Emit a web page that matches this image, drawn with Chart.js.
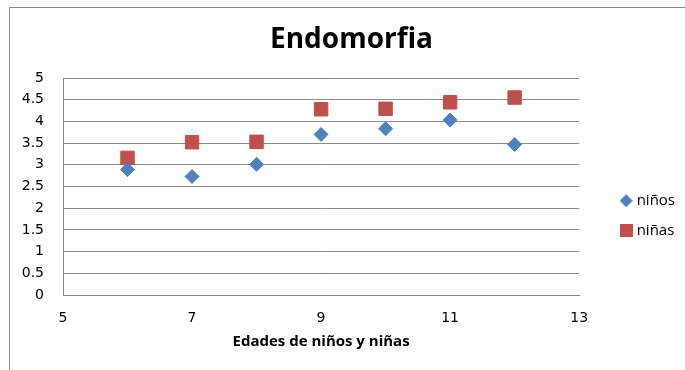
<!DOCTYPE html>
<html>
<head>
<meta charset="utf-8">
<script src="https://cdn.jsdelivr.net/npm/chart.js@4/dist/chart.umd.min.js"></script>
<style>
  html, body { margin: 0; padding: 0; background: #fff; }
  #wrap { position: relative; width: 685px; height: 370px; }
  #frame { position: absolute; left: 9px; top: 7px; right: 0; bottom: 0;
           border-left: 1px solid #8c8c8c; border-top: 1px solid #8c8c8c; }
  canvas { position: absolute; left: 0; top: 0; }
</style>
</head>
<body>
<div id="wrap">
  <div id="frame"></div>
  <canvas id="c" width="685" height="370"></canvas>
</div>
<script>
const edades = [6, 7, 8, 9, 10, 11, 12];
const ninos = [2.89, 2.73, 3.01, 3.70, 3.83, 4.03, 3.47];
const ninas = [3.16, 3.52, 3.53, 4.28, 4.29, 4.44, 4.55];
const seriesNames = ['niños', 'niñas'];
const chartTitle = 'Endomorfia';
const xTitle = 'Edades de niños y niñas';
const xRange = [5, 13, 2];
const yRange = [0, 5, 0.5];

const TFONT = '"Open Sans", Lato, sans-serif';
const NFONT = '"DejaVu Sans", Verdana, sans-serif';
const GRID = '#8a8a8a';
const BLUE = '#4F81BD';
const RED = '#C0504D';

const toPts = (xs, ys) => xs.map((x, i) => ({ x: x, y: ys[i] }));

// small legend marker images
function marker(kind, color) {
  const c = document.createElement('canvas');
  c.width = 13; c.height = 13;
  const g = c.getContext('2d');
  g.fillStyle = color;
  if (kind === 'diamond') {
    g.beginPath();
    g.moveTo(6.5, 0); g.lineTo(13, 6.5); g.lineTo(6.5, 13); g.lineTo(0, 6.5);
    g.closePath(); g.fill();
  } else {
    g.fillRect(0, 0, 13, 13);
  }
  return c;
}
const legendMarks = [marker('diamond', BLUE), marker('square', RED)];

new Chart(document.getElementById('c'), {
  type: 'scatter',
  data: {
    datasets: [
      {
        label: seriesNames[0],
        data: toPts(edades, ninos),
        pointStyle: 'rectRot',
        pointRadius: 7,
        pointHoverRadius: 7,
        backgroundColor: BLUE,
        borderColor: BLUE,
        borderWidth: 1
      },
      {
        label: seriesNames[1],
        data: toPts(edades, ninas),
        pointStyle: 'rect',
        pointRadius: 9.5,
        pointHoverRadius: 9.5,
        backgroundColor: RED,
        borderColor: RED,
        borderWidth: 1
      }
    ]
  },
  options: {
    responsive: false,
    animation: false,
    devicePixelRatio: 1,
    layout: { padding: { left: 18, right: 0, top: 0, bottom: 0 } },
    plugins: {
      tooltip: { enabled: false },
      title: {
        display: true,
        text: chartTitle,
        color: '#000',
        font: { family: TFONT, size: 28, weight: 'bold', lineHeight: 1.2 },
        padding: { top: 23, bottom: 21.4 }
      },
      legend: {
        position: 'right',
        align: 'start',
        fullSize: true,
        title: {
          display: true,
          text: ' ',
          font: { family: TFONT, size: 13, lineHeight: 1.2 },
          padding: { top: 162.6, bottom: 0 }
        },
        labels: {
          usePointStyle: true,
          boxWidth: 6,
          boxHeight: 13,
          padding: 15,
          color: '#000',
          font: { family: TFONT, size: 15 },
          generateLabels: (chart) => {
            const items = Chart.defaults.plugins.legend.labels.generateLabels(chart);
            items.forEach((it, i) => { it.pointStyle = legendMarks[i]; });
            return items;
          }
        }
      }
    },
    scales: {
      x: {
        type: 'linear',
        position: 'bottom',
        min: xRange[0],
        max: xRange[1],
        ticks: { stepSize: xRange[2], color: '#000', padding: 15,
                 font: { family: NFONT, size: 14 } },
        grid: { display: false, drawTicks: false },
        border: { display: true, color: GRID, width: 1 },
        title: {
          display: true,
          text: xTitle,
          color: '#000',
          font: { family: TFONT, size: 15, weight: 'bold', lineHeight: 1.2 },
          padding: { top: 0, bottom: 19 }
        },
        afterFit: s => { s.height = 75; }
      },
      y: {
        type: 'linear',
        position: 'left',
        min: yRange[0],
        max: yRange[1],
        ticks: { stepSize: yRange[2], color: '#000', padding: 19,
                 font: { family: NFONT, size: 14 },
                 callback: v => String(+v.toFixed(1)) },
        grid: { display: true, color: GRID, lineWidth: 1, drawTicks: false },
        border: { display: true, color: GRID, width: 1 },
        afterFit: s => { s.width = 45; }
      },
      gap: {
        type: 'linear',
        position: 'right',
        display: true,
        ticks: { display: false },
        grid: { display: false, drawTicks: false },
        border: { display: false },
        afterFit: s => { s.width = 29; }
      }
    }
  }
});
</script>
</body>
</html>
